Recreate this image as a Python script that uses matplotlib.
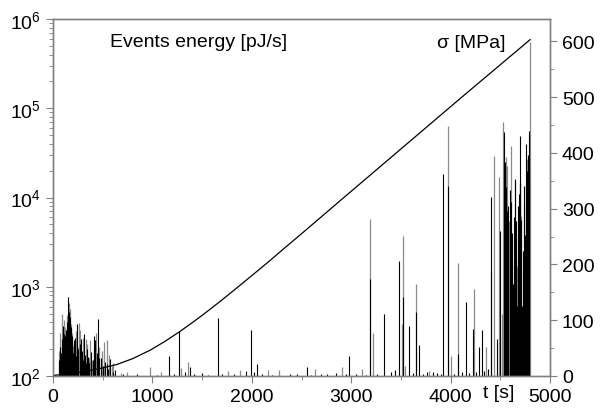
import numpy as np
import matplotlib
matplotlib.use('Agg')
import matplotlib.pyplot as plt
from matplotlib.ticker import MultipleLocator, LogLocator
import matplotlib.transforms as mtransforms

plt.rcParams['font.family'] = ['Liberation Sans', 'DejaVu Sans']
plt.rcParams['mathtext.default'] = 'regular'

# stress curve (right axis)
stress_t = [0, 150, 300, 450, 640, 800, 980, 1130, 1270, 1400, 1510, 1680, 1850,
            2000, 2170, 2330, 2490, 2920, 3500, 4100, 4800]
stress_mpa = [1, 3.6, 7.6, 12.6, 20.5, 31, 46.5, 62.5, 79, 95.5, 110, 133.5, 158,
              180, 205, 229.5, 253.5, 319, 407, 498, 603]

# gray events (t [s], energy [pJ/s])
gray_t = [60, 75, 94, 110, 125, 145, 163, 171, 180, 195, 205, 230, 250, 262, 270,
          290, 300, 329, 340, 360, 375, 395, 410, 430, 466, 495, 516, 540, 560, 590,
          600, 680, 741, 976, 1090, 1292, 1361, 1761, 1877, 2160, 2270, 2636, 2904,
          3105, 3189, 3216, 3515, 3525, 3540, 3652, 3780, 3974, 4004, 4071, 4236,
          4352, 4440, 4484, 4500, 4520, 4531, 4557, 4571, 4588, 4605, 4615, 4648,
          4660, 4670, 4680, 4698, 4712, 4728, 4745, 4772, 4795]
gray_e = [192, 300, 495, 420, 350, 480, 660, 560, 380, 300, 218, 320, 210, 395, 330,
          184, 270, 260, 230, 158, 250, 153, 200, 300, 210, 190, 238, 250, 170, 130,
          140, 108, 112, 125, 110, 122, 142, 115, 117, 117, 117, 119, 126,
          119, 5740, 301, 380, 3730, 130, 1072, 115, 63800, 169, 1845, 944,
          210, 28900, 17100, 300, 500, 70600, 28100, 22700, 5500, 38000, 2000, 15400,
          2040, 1730, 900, 14700, 6250, 1500, 3120, 26900, 552000]

# black events
black_t = [63, 75, 80, 87, 92, 98, 104, 108, 114, 120, 125, 130, 133, 137, 142, 145,
           150, 154, 158, 165, 172, 176, 180, 184, 188, 195, 200, 210, 215, 221, 228,
           235, 240, 245, 255, 268, 275, 282, 295, 300, 312, 320, 330, 340, 349, 365,
           382, 400, 416, 423, 440, 449, 460, 480, 500, 520, 540, 555, 573, 600, 624,
           700, 850, 1050, 1170, 1220, 1271, 1330, 1380, 1420, 1500, 1560, 1664, 1700,
           1820, 1937, 1989, 2020, 2049, 2100, 2200, 2380, 2450, 2552, 2600, 2700,
           2760, 2850, 2950, 2981, 3050, 3150, 3189, 3260, 3333, 3400, 3440, 3484,
           3525, 3585, 3620, 3652, 3686, 3720, 3760, 3820, 3860, 3900, 3927, 3974,
           4030, 4071, 4110, 4155, 4190, 4222, 4260, 4290, 4312, 4340, 4380, 4403,
           4410, 4470, 4493, 4537, 4543, 4545, 4548, 4553, 4560, 4566, 4575, 4580,
           4596, 4600, 4610, 4620, 4630, 4640, 4644, 4650, 4655, 4668, 4675, 4683,
           4690, 4695, 4700, 4705, 4717, 4720, 4725, 4735, 4740, 4750, 4756, 4762,
           4765, 4775, 4780, 4786, 4790, 4792]
black_e = [150, 210, 180, 260, 230, 320, 366, 250, 295, 220, 280, 240, 330, 400, 260, 300,
           420, 760, 520, 300, 455, 240, 350, 210, 283, 230, 180, 190, 250, 270, 169,
           160, 200, 383, 200, 230, 150, 260, 190, 150, 295, 170, 140, 200, 162, 140,
           184, 150, 283, 250, 180, 435, 160, 158, 130, 145, 137, 120, 155, 112, 118,
           104, 106, 103, 166, 105, 321, 112, 126, 104, 108, 103, 443, 105,
           104, 115, 330, 112, 136, 104, 103, 106, 104, 126, 103, 106,
           104, 108, 105, 166, 104, 103, 1222, 106, 496, 112, 118, 1958,
           767, 366, 108, 521, 222, 106, 110, 112, 108, 105, 18300, 13500,
           106, 176, 110, 680, 108, 336, 112, 210, 330, 115, 120, 10050,
           1510, 260, 4250, 54600, 21800, 25000, 18000, 13000, 9000, 7000, 5000, 8000,
           1030, 12000, 9000, 4000, 1070, 6000, 16100, 2040, 5500, 613, 3500, 8000,
           11000, 49000, 14800, 5600, 300, 612, 2500, 8000, 13500, 3760, 13500, 40000,
           20000, 9000, 30000, 56000, 20000, 15000]

spine_gray = '#808080'

fig = plt.figure(figsize=(6.01, 4.10), dpi=100)
ax = fig.add_axes([53 / 601, 1 - 377 / 410, 497 / 601, 357 / 410])

ax.vlines(gray_t, 100, gray_e, color='#8a8a8a', lw=0.9)
ax.vlines(black_t, 100, black_e, color='black', lw=0.8)

ax.set_yscale('log')
ax.set_ylim(100, 1e6)
ax.set_xlim(0, 5000)
ax.xaxis.set_major_locator(MultipleLocator(1000))
ax.xaxis.set_minor_locator(MultipleLocator(500))
ax.yaxis.set_major_locator(LogLocator(base=10, numticks=10))
ax.yaxis.set_minor_locator(LogLocator(base=10, subs=np.arange(2, 10), numticks=10))

ax2 = ax.twinx()
ax2.plot(stress_t, stress_mpa, color='black', lw=0.9)
ax2.set_ylim(0, 640)
ax2.yaxis.set_major_locator(MultipleLocator(100))
ax2.yaxis.set_minor_locator(MultipleLocator(50))

for a in (ax, ax2):
    for s in a.spines.values():
        s.set_color(spine_gray)
        s.set_linewidth(1.0)
    a.tick_params(which='both', direction='out', color=spine_gray, labelsize=14,
                  labelcolor='black')
    a.tick_params(which='major', length=5)
    a.tick_params(which='minor', length=3)
ax.tick_params(axis='x', which='both', top=False)
ax.tick_params(axis='y', which='both', right=False)

ax.text(0.115, 0.925, 'Events energy [pJ/s]', transform=ax.transAxes,
        fontsize=14, ha='left', va='baseline')
ax.text(0.9095, 0.922, 'σ [MPa]', transform=ax.transAxes,
        fontsize=14, ha='right', va='baseline')
trans = mtransforms.blended_transform_factory(ax.transData, ax.transAxes)
ax.text(4487, -0.059, 't [s]', transform=trans, fontsize=14, ha='center', va='baseline')

fig.savefig('out.png', dpi=100)
